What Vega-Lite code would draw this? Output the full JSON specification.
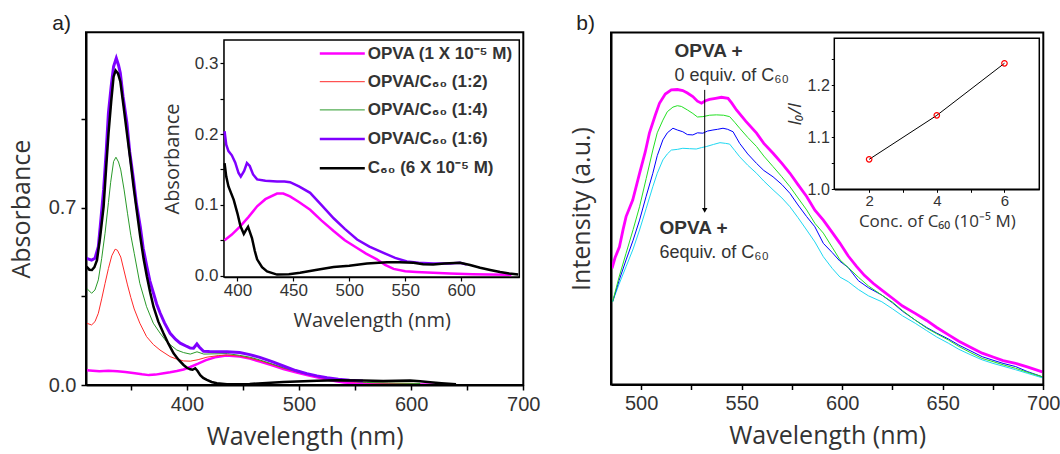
{
  "$schema": "https://vega.github.io/schema/vega-lite/v6.json",
  "width": 1060,
  "height": 454,
  "autosize": {"type": "none"},
  "padding": 0,
  "background": "white",
  "config": {
    "view": {"stroke": null},
    "axis": {"grid": false, "labelFont": "Liberation Sans", "labelColor": "#333333", "titleFont": "Open Sans", "titleColor": "#333333", "titleFontWeight": "normal", "domainColor": "black", "tickColor": "black", "labelFlush": false, "labelOverlap": false}
  },
  "datasets": {
    "amain": [
      {"s":"OPVA","x":310.5,"y":0.058},{"s":"OPVA","x":316,"y":0.056},{"s":"OPVA","x":322,"y":0.054},{"s":"OPVA","x":330,"y":0.056},{"s":"OPVA","x":338,"y":0.054},{"s":"OPVA","x":345,"y":0.051},{"s":"OPVA","x":352,"y":0.047},{"s":"OPVA","x":360,"y":0.042},{"s":"OPVA","x":366,"y":0.039},{"s":"OPVA","x":372,"y":0.041},{"s":"OPVA","x":378,"y":0.045},{"s":"OPVA","x":385,"y":0.050},{"s":"OPVA","x":391,"y":0.055},{"s":"OPVA","x":397,"y":0.061},{"s":"OPVA","x":403,"y":0.071},{"s":"OPVA","x":410,"y":0.084},{"s":"OPVA","x":417,"y":0.098},{"s":"OPVA","x":425,"y":0.109},{"s":"OPVA","x":435,"y":0.116},{"s":"OPVA","x":447,"y":0.112},{"s":"OPVA","x":456,"y":0.104},{"s":"OPVA","x":465,"y":0.093},{"s":"OPVA","x":476,"y":0.078},{"s":"OPVA","x":486,"y":0.063},{"s":"OPVA","x":497,"y":0.050},{"s":"OPVA","x":507,"y":0.039},{"s":"OPVA","x":516,"y":0.030},{"s":"OPVA","x":525,"y":0.022},{"s":"OPVA","x":533,"y":0.015},{"s":"OPVA","x":540,"y":0.010},{"s":"OPVA","x":550,"y":0.007},{"s":"OPVA","x":560,"y":0.005},{"s":"OPVA","x":575,"y":0.004},{"s":"OPVA","x":590,"y":0.003},{"s":"OPVA","x":610,"y":0.002},{"s":"OPVA","x":640,"y":0.001},
      {"s":"1:2","x":310.5,"y":0.244},{"s":"1:2","x":315,"y":0.237},{"s":"1:2","x":318,"y":0.250},{"s":"1:2","x":321,"y":0.283},{"s":"1:2","x":324,"y":0.340},{"s":"1:2","x":327,"y":0.401},{"s":"1:2","x":330,"y":0.460},{"s":"1:2","x":333,"y":0.510},{"s":"1:2","x":336,"y":0.536},{"s":"1:2","x":338,"y":0.532},{"s":"1:2","x":341,"y":0.505},{"s":"1:2","x":344,"y":0.450},{"s":"1:2","x":347,"y":0.395},{"s":"1:2","x":350,"y":0.345},{"s":"1:2","x":353,"y":0.300},{"s":"1:2","x":358,"y":0.244},{"s":"1:2","x":364,"y":0.191},{"s":"1:2","x":370,"y":0.160},{"s":"1:2","x":376,"y":0.138},{"s":"1:2","x":385,"y":0.112},{"s":"1:2","x":391,"y":0.102},{"s":"1:2","x":397,"y":0.095},{"s":"1:2","x":403,"y":0.094},{"s":"1:2","x":410,"y":0.100},{"s":"1:2","x":418,"y":0.110},{"s":"1:2","x":428,"y":0.116},{"s":"1:2","x":436,"y":0.118},{"s":"1:2","x":447,"y":0.114},{"s":"1:2","x":456,"y":0.106},{"s":"1:2","x":465,"y":0.096},{"s":"1:2","x":476,"y":0.081},{"s":"1:2","x":486,"y":0.066},{"s":"1:2","x":497,"y":0.053},{"s":"1:2","x":507,"y":0.042},{"s":"1:2","x":516,"y":0.033},{"s":"1:2","x":525,"y":0.025},{"s":"1:2","x":533,"y":0.019},{"s":"1:2","x":545,"y":0.013},{"s":"1:2","x":560,"y":0.009},{"s":"1:2","x":580,"y":0.007},{"s":"1:2","x":608,"y":0.006},
      {"s":"1:4","x":310.5,"y":0.382},{"s":"1:4","x":315,"y":0.362},{"s":"1:4","x":318,"y":0.375},{"s":"1:4","x":321,"y":0.415},{"s":"1:4","x":324,"y":0.500},{"s":"1:4","x":327,"y":0.599},{"s":"1:4","x":330,"y":0.720},{"s":"1:4","x":332,"y":0.800},{"s":"1:4","x":334.6,"y":0.882},{"s":"1:4","x":336.7,"y":0.899},{"s":"1:4","x":339,"y":0.880},{"s":"1:4","x":341,"y":0.849},{"s":"1:4","x":344,"y":0.770},{"s":"1:4","x":347,"y":0.678},{"s":"1:4","x":350,"y":0.590},{"s":"1:4","x":353,"y":0.520},{"s":"1:4","x":358,"y":0.401},{"s":"1:4","x":364,"y":0.309},{"s":"1:4","x":370,"y":0.244},{"s":"1:4","x":376,"y":0.205},{"s":"1:4","x":382,"y":0.170},{"s":"1:4","x":391,"y":0.138},{"s":"1:4","x":397,"y":0.128},{"s":"1:4","x":403,"y":0.122},{"s":"1:4","x":409,"y":0.131},{"s":"1:4","x":415,"y":0.122},{"s":"1:4","x":425,"y":0.123},{"s":"1:4","x":436,"y":0.124},{"s":"1:4","x":447,"y":0.117},{"s":"1:4","x":456,"y":0.110},{"s":"1:4","x":465,"y":0.099},{"s":"1:4","x":476,"y":0.083},{"s":"1:4","x":486,"y":0.068},{"s":"1:4","x":497,"y":0.055},{"s":"1:4","x":507,"y":0.044},{"s":"1:4","x":516,"y":0.035},{"s":"1:4","x":525,"y":0.027},{"s":"1:4","x":533,"y":0.021},{"s":"1:4","x":545,"y":0.015},{"s":"1:4","x":560,"y":0.010},{"s":"1:4","x":580,"y":0.008},{"s":"1:4","x":608,"y":0.006},
      {"s":"1:6","x":310.5,"y":0.500},{"s":"1:6","x":315,"y":0.493},{"s":"1:6","x":318,"y":0.500},{"s":"1:6","x":321,"y":0.546},{"s":"1:6","x":323,"y":0.640},{"s":"1:6","x":325.7,"y":0.770},{"s":"1:6","x":328,"y":0.920},{"s":"1:6","x":330,"y":1.073},{"s":"1:6","x":332.5,"y":1.180},{"s":"1:6","x":334.6,"y":1.257},{"s":"1:6","x":337,"y":1.290},{"s":"1:6","x":339,"y":1.262},{"s":"1:6","x":340.6,"y":1.231},{"s":"1:6","x":343,"y":1.140},{"s":"1:6","x":346.5,"y":1.033},{"s":"1:6","x":349,"y":0.920},{"s":"1:6","x":352.4,"y":0.809},{"s":"1:6","x":355,"y":0.715},{"s":"1:6","x":358.4,"y":0.625},{"s":"1:6","x":361,"y":0.540},{"s":"1:6","x":364.3,"y":0.467},{"s":"1:6","x":367,"y":0.410},{"s":"1:6","x":370.2,"y":0.362},{"s":"1:6","x":373,"y":0.320},{"s":"1:6","x":376.2,"y":0.283},{"s":"1:6","x":380,"y":0.245},{"s":"1:6","x":385,"y":0.204},{"s":"1:6","x":390,"y":0.180},{"s":"1:6","x":394,"y":0.165},{"s":"1:6","x":400,"y":0.152},{"s":"1:6","x":403,"y":0.146},{"s":"1:6","x":405.9,"y":0.145},{"s":"1:6","x":408.9,"y":0.162},{"s":"1:6","x":411,"y":0.150},{"s":"1:6","x":414.8,"y":0.133},{"s":"1:6","x":420,"y":0.132},{"s":"1:6","x":435.7,"y":0.131},{"s":"1:6","x":447,"y":0.128},{"s":"1:6","x":456,"y":0.120},{"s":"1:6","x":465,"y":0.109},{"s":"1:6","x":476,"y":0.092},{"s":"1:6","x":486,"y":0.075},{"s":"1:6","x":497,"y":0.057},{"s":"1:6","x":507,"y":0.045},{"s":"1:6","x":516,"y":0.036},{"s":"1:6","x":525,"y":0.029},{"s":"1:6","x":535,"y":0.023},{"s":"1:6","x":545,"y":0.019},{"s":"1:6","x":557,"y":0.016},
      {"s":"C60","x":310.5,"y":0.467},{"s":"C60","x":313,"y":0.455},{"s":"C60","x":315.3,"y":0.454},{"s":"C60","x":317.5,"y":0.465},{"s":"C60","x":319.8,"y":0.493},{"s":"C60","x":322.5,"y":0.580},{"s":"C60","x":325.7,"y":0.704},{"s":"C60","x":328,"y":0.860},{"s":"C60","x":330.1,"y":0.994},{"s":"C60","x":332.5,"y":1.120},{"s":"C60","x":334.6,"y":1.217},{"s":"C60","x":336.4,"y":1.241},{"s":"C60","x":338.5,"y":1.230},{"s":"C60","x":340.6,"y":1.198},{"s":"C60","x":343.5,"y":1.100},{"s":"C60","x":346.5,"y":0.994},{"s":"C60","x":349.5,"y":0.890},{"s":"C60","x":352.4,"y":0.783},{"s":"C60","x":355.5,"y":0.680},{"s":"C60","x":358.4,"y":0.585},{"s":"C60","x":361.3,"y":0.500},{"s":"C60","x":364.3,"y":0.428},{"s":"C60","x":367.3,"y":0.364},{"s":"C60","x":370.2,"y":0.309},{"s":"C60","x":374.5,"y":0.250},{"s":"C60","x":379.1,"y":0.204},{"s":"C60","x":383.5,"y":0.163},{"s":"C60","x":388.1,"y":0.125},{"s":"C60","x":392.5,"y":0.100},{"s":"C60","x":397,"y":0.079},{"s":"C60","x":400,"y":0.068},{"s":"C60","x":403,"y":0.062},{"s":"C60","x":405,"y":0.060},{"s":"C60","x":407.4,"y":0.066},{"s":"C60","x":409.5,"y":0.055},{"s":"C60","x":411.9,"y":0.039},{"s":"C60","x":414.5,"y":0.028},{"s":"C60","x":417.8,"y":0.020},{"s":"C60","x":422,"y":0.012},{"s":"C60","x":426.7,"y":0.007},{"s":"C60","x":435.7,"y":0.003},{"s":"C60","x":456,"y":0.004},{"s":"C60","x":486,"y":0.012},{"s":"C60","x":516,"y":0.017},{"s":"C60","x":534,"y":0.019},{"s":"C60","x":557,"y":0.018},{"s":"C60","x":575,"y":0.016},{"s":"C60","x":599,"y":0.018},{"s":"C60","x":608,"y":0.015},{"s":"C60","x":617,"y":0.011},{"s":"C60","x":627,"y":0.007},{"s":"C60","x":640,"y":0.003}
    ],
    "ainset": [
      {"s":"OPVA","x":388.5,"y":0.050},{"s":"OPVA","x":395,"y":0.058},{"s":"OPVA","x":402.7,"y":0.070},{"s":"OPVA","x":410,"y":0.083},{"s":"OPVA","x":417.6,"y":0.098},{"s":"OPVA","x":425,"y":0.108},{"s":"OPVA","x":435.4,"y":0.116},{"s":"OPVA","x":441,"y":0.116},{"s":"OPVA","x":447,"y":0.112},{"s":"OPVA","x":455,"y":0.104},{"s":"OPVA","x":465,"y":0.093},{"s":"OPVA","x":475,"y":0.078},{"s":"OPVA","x":486,"y":0.063},{"s":"OPVA","x":496,"y":0.050},{"s":"OPVA","x":507,"y":0.039},{"s":"OPVA","x":515,"y":0.031},{"s":"OPVA","x":524.7,"y":0.023},{"s":"OPVA","x":532,"y":0.015},{"s":"OPVA","x":539.6,"y":0.0095},{"s":"OPVA","x":550,"y":0.006},{"s":"OPVA","x":560,"y":0.005},{"s":"OPVA","x":575,"y":0.004},{"s":"OPVA","x":590,"y":0.003},{"s":"OPVA","x":610,"y":0.002},{"s":"OPVA","x":625,"y":0.0015},{"s":"OPVA","x":645,"y":0.001},
      {"s":"1:6","x":388.5,"y":0.204},{"s":"1:6","x":390,"y":0.185},{"s":"1:6","x":392,"y":0.176},{"s":"1:6","x":395,"y":0.170},{"s":"1:6","x":398,"y":0.160},{"s":"1:6","x":401,"y":0.145},{"s":"1:6","x":403,"y":0.140},{"s":"1:6","x":406,"y":0.148},{"s":"1:6","x":408.5,"y":0.159},{"s":"1:6","x":411,"y":0.155},{"s":"1:6","x":414,"y":0.143},{"s":"1:6","x":417.6,"y":0.136},{"s":"1:6","x":425,"y":0.134},{"s":"1:6","x":435.4,"y":0.133},{"s":"1:6","x":442,"y":0.133},{"s":"1:6","x":447,"y":0.132},{"s":"1:6","x":455,"y":0.126},{"s":"1:6","x":465,"y":0.117},{"s":"1:6","x":475,"y":0.100},{"s":"1:6","x":486,"y":0.081},{"s":"1:6","x":496,"y":0.066},{"s":"1:6","x":507,"y":0.051},{"s":"1:6","x":518,"y":0.041},{"s":"1:6","x":530.6,"y":0.032},{"s":"1:6","x":541,"y":0.025},{"s":"1:6","x":551.5,"y":0.020},{"s":"1:6","x":562,"y":0.018},{"s":"1:6","x":575,"y":0.017},{"s":"1:6","x":590,"y":0.017},{"s":"1:6","x":599,"y":0.018},{"s":"1:6","x":605,"y":0.0155},
      {"s":"C60","x":388.5,"y":0.159},{"s":"C60","x":390,"y":0.140},{"s":"C60","x":392,"y":0.126},{"s":"C60","x":396.7,"y":0.107},{"s":"C60","x":400,"y":0.088},{"s":"C60","x":402.7,"y":0.070},{"s":"C60","x":405.7,"y":0.059},{"s":"C60","x":407.5,"y":0.064},{"s":"C60","x":409.5,"y":0.069},{"s":"C60","x":411,"y":0.062},{"s":"C60","x":413,"y":0.053},{"s":"C60","x":415.5,"y":0.035},{"s":"C60","x":417.6,"y":0.023},{"s":"C60","x":422,"y":0.012},{"s":"C60","x":426.5,"y":0.006},{"s":"C60","x":435.4,"y":0.0014},{"s":"C60","x":446,"y":0.002},{"s":"C60","x":456,"y":0.004},{"s":"C60","x":470,"y":0.008},{"s":"C60","x":486,"y":0.012},{"s":"C60","x":500,"y":0.014},{"s":"C60","x":515.8,"y":0.017},{"s":"C60","x":533.7,"y":0.019},{"s":"C60","x":545,"y":0.019},{"s":"C60","x":557.4,"y":0.018},{"s":"C60","x":566,"y":0.016},{"s":"C60","x":575,"y":0.0155},{"s":"C60","x":585,"y":0.017},{"s":"C60","x":599,"y":0.018},{"s":"C60","x":608,"y":0.015},{"s":"C60","x":617,"y":0.011},{"s":"C60","x":626,"y":0.008},{"s":"C60","x":634.8,"y":0.005},{"s":"C60","x":643,"y":0.003},{"s":"C60","x":651,"y":0.0015}
    ],
    "bmain": [
      {"s":"6","x":485.8,"y":23.5},{"s":"6","x":489,"y":28.5},{"s":"6","x":492.5,"y":33.5},{"s":"6","x":496,"y":38.5},{"s":"6","x":499.2,"y":43.9},{"s":"6","x":502.5,"y":50},{"s":"6","x":505.8,"y":56.2},{"s":"6","x":508,"y":60},{"s":"6","x":510.8,"y":63.8},{"s":"6","x":513,"y":65.5},{"s":"6","x":515,"y":66.6},{"s":"6","x":518,"y":66.8},{"s":"6","x":520.7,"y":67.1},{"s":"6","x":524,"y":67.0},{"s":"6","x":527.4,"y":66.9},{"s":"6","x":530,"y":67.3},{"s":"6","x":532.4,"y":67.6},{"s":"6","x":536,"y":68.2},{"s":"6","x":539.2,"y":68.7},{"s":"6","x":542,"y":68.5},{"s":"6","x":544,"y":68.3},{"s":"6","x":546.5,"y":66.5},{"s":"6","x":549,"y":64.7},{"s":"6","x":553,"y":62.3},{"s":"6","x":557.4,"y":60.0},{"s":"6","x":561,"y":57.8},{"s":"6","x":565.6,"y":55.3},{"s":"6","x":570,"y":53.0},{"s":"6","x":574,"y":50.5},{"s":"6","x":578,"y":47.4},{"s":"6","x":582.3,"y":43.9},{"s":"6","x":586.4,"y":40.5},{"s":"6","x":590.6,"y":36.3},{"s":"6","x":595,"y":33.0},{"s":"6","x":598.9,"y":30.5},{"s":"6","x":603,"y":29.2},{"s":"6","x":608,"y":27.0},{"s":"6","x":613,"y":25.2},{"s":"6","x":619.7,"y":23.5},{"s":"6","x":625,"y":21.5},{"s":"6","x":630,"y":19.5},{"s":"6","x":636.3,"y":17.4},{"s":"6","x":642,"y":15.3},{"s":"6","x":647,"y":13.5},{"s":"6","x":652.9,"y":11.7},{"s":"6","x":658,"y":10.0},{"s":"6","x":664,"y":8.4},{"s":"6","x":669.6,"y":7.0},{"s":"6","x":675,"y":6.0},{"s":"6","x":680,"y":5.2},{"s":"6","x":686.2,"y":4.2},{"s":"6","x":692,"y":3.2},{"s":"6","x":699.5,"y":1.9},
      {"s":"4","x":485.8,"y":23.5},{"s":"4","x":489,"y":29.5},{"s":"4","x":492.5,"y":35.4},{"s":"4","x":496,"y":41},{"s":"4","x":499.2,"y":46.7},{"s":"4","x":502.5,"y":53.5},{"s":"4","x":505.8,"y":60.0},{"s":"4","x":508,"y":65},{"s":"4","x":510.8,"y":69.5},{"s":"4","x":513,"y":71.5},{"s":"4","x":515.8,"y":72.8},{"s":"4","x":518,"y":72.3},{"s":"4","x":520.7,"y":71.8},{"s":"4","x":523,"y":71.0},{"s":"4","x":525.7,"y":70.9},{"s":"4","x":528,"y":71.5},{"s":"4","x":530.7,"y":71.4},{"s":"4","x":533,"y":72.0},{"s":"4","x":535.7,"y":72.3},{"s":"4","x":538,"y":72.5},{"s":"4","x":540.7,"y":72.8},{"s":"4","x":543,"y":72.5},{"s":"4","x":545.7,"y":71.8},{"s":"4","x":547.5,"y":70.0},{"s":"4","x":549,"y":68.5},{"s":"4","x":553,"y":65.5},{"s":"4","x":557.4,"y":62.8},{"s":"4","x":561,"y":60.8},{"s":"4","x":565.6,"y":59.0},{"s":"4","x":570,"y":56.8},{"s":"4","x":574,"y":54.3},{"s":"4","x":578,"y":51.0},{"s":"4","x":582.3,"y":47.7},{"s":"4","x":586.4,"y":44.8},{"s":"4","x":590.6,"y":40.1},{"s":"4","x":595,"y":37.5},{"s":"4","x":598.9,"y":35.0},{"s":"4","x":603,"y":33.2},{"s":"4","x":608,"y":29.5},{"s":"4","x":613,"y":27.5},{"s":"4","x":619.7,"y":25.4},{"s":"4","x":625,"y":23.2},{"s":"4","x":630,"y":20.8},{"s":"4","x":636.3,"y":18.3},{"s":"4","x":642,"y":16.2},{"s":"4","x":647,"y":14.6},{"s":"4","x":652.9,"y":12.9},{"s":"4","x":658,"y":11.2},{"s":"4","x":664,"y":9.5},{"s":"4","x":669.6,"y":7.9},{"s":"4","x":675,"y":6.9},{"s":"4","x":680,"y":6.0},{"s":"4","x":686.2,"y":5.1},{"s":"4","x":692,"y":3.7},{"s":"4","x":699.5,"y":2.2},
      {"s":"2","x":485.8,"y":23.5},{"s":"2","x":489,"y":30.5},{"s":"2","x":492.5,"y":37.3},{"s":"2","x":496,"y":44},{"s":"2","x":499.2,"y":50.5},{"s":"2","x":502.5,"y":58.5},{"s":"2","x":505.8,"y":66.6},{"s":"2","x":508,"y":71.5},{"s":"2","x":510.8,"y":75.1},{"s":"2","x":513,"y":77.5},{"s":"2","x":515.8,"y":78.8},{"s":"2","x":518,"y":79.2},{"s":"2","x":520,"y":79.0},{"s":"2","x":523,"y":78.0},{"s":"2","x":525.7,"y":77.0},{"s":"2","x":528,"y":76.0},{"s":"2","x":530.7,"y":76.1},{"s":"2","x":534,"y":76.5},{"s":"2","x":537.4,"y":76.6},{"s":"2","x":541,"y":76.5},{"s":"2","x":544,"y":76.1},{"s":"2","x":546.5,"y":74.5},{"s":"2","x":549,"y":72.8},{"s":"2","x":553,"y":70.2},{"s":"2","x":557.4,"y":67.6},{"s":"2","x":561,"y":64.9},{"s":"2","x":565.6,"y":61.9},{"s":"2","x":570,"y":59.0},{"s":"2","x":574,"y":56.2},{"s":"2","x":578,"y":53.0},{"s":"2","x":582.3,"y":49.6},{"s":"2","x":586.4,"y":45.8},{"s":"2","x":590.6,"y":43.0},{"s":"2","x":595,"y":39.0},{"s":"2","x":598.9,"y":35.4},{"s":"2","x":603,"y":33.2},{"s":"2","x":608,"y":30.5},{"s":"2","x":613,"y":28.0},{"s":"2","x":619.7,"y":25.4},{"s":"2","x":625,"y":23.4},{"s":"2","x":630,"y":21.0},{"s":"2","x":636.3,"y":18.3},{"s":"2","x":642,"y":16.0},{"s":"2","x":647,"y":14.4},{"s":"2","x":652.9,"y":12.6},{"s":"2","x":658,"y":10.8},{"s":"2","x":664,"y":9.0},{"s":"2","x":669.6,"y":7.4},{"s":"2","x":675,"y":6.5},{"s":"2","x":680,"y":5.6},{"s":"2","x":686.2,"y":4.6},{"s":"2","x":692,"y":3.5},{"s":"2","x":699.5,"y":2.2},
      {"s":"0","x":485.5,"y":33.0},{"s":"0","x":487,"y":36},{"s":"0","x":489.2,"y":39.1},{"s":"0","x":491,"y":44},{"s":"0","x":492.5,"y":47.7},{"s":"0","x":495.8,"y":52.4},{"s":"0","x":499.2,"y":60.0},{"s":"0","x":502,"y":66},{"s":"0","x":504.1,"y":71.4},{"s":"0","x":507,"y":76.5},{"s":"0","x":509.1,"y":79.9},{"s":"0","x":512,"y":82.5},{"s":"0","x":515,"y":83.7},{"s":"0","x":518,"y":83.8},{"s":"0","x":520.7,"y":83.5},{"s":"0","x":523,"y":82.8},{"s":"0","x":525.7,"y":81.8},{"s":"0","x":528,"y":80.5},{"s":"0","x":530,"y":79.9},{"s":"0","x":532,"y":80.6},{"s":"0","x":534,"y":81.0},{"s":"0","x":537,"y":81.3},{"s":"0","x":539.9,"y":81.6},{"s":"0","x":543.2,"y":81.3},{"s":"0","x":545,"y":80.0},{"s":"0","x":547.4,"y":78.0},{"s":"0","x":552,"y":74.8},{"s":"0","x":557.4,"y":71.4},{"s":"0","x":561,"y":68.5},{"s":"0","x":565.6,"y":65.7},{"s":"0","x":570,"y":62.8},{"s":"0","x":574,"y":60.0},{"s":"0","x":578,"y":56.8},{"s":"0","x":582.3,"y":53.4},{"s":"0","x":586.4,"y":49.5},{"s":"0","x":590.6,"y":46.7},{"s":"0","x":595,"y":43.2},{"s":"0","x":598.9,"y":40.1},{"s":"0","x":603,"y":36.5},{"s":"0","x":607.2,"y":33.5},{"s":"0","x":611,"y":31.0},{"s":"0","x":615.5,"y":28.7},{"s":"0","x":619.7,"y":26.8},{"s":"0","x":625,"y":24.5},{"s":"0","x":630,"y":22.3},{"s":"0","x":636.3,"y":20.2},{"s":"0","x":642,"y":18.2},{"s":"0","x":647,"y":16.2},{"s":"0","x":652.9,"y":14.1},{"s":"0","x":658,"y":12.3},{"s":"0","x":664,"y":10.5},{"s":"0","x":669.6,"y":8.9},{"s":"0","x":675,"y":7.8},{"s":"0","x":680,"y":6.8},{"s":"0","x":686.2,"y":6.0},{"s":"0","x":692,"y":5.0},{"s":"0","x":699.5,"y":3.6}
    ],
    "binset": [
      {"c": 2, "r": 1.0575},
      {"c": 4, "r": 1.142},
      {"c": 6, "r": 1.242}
    ]
  },
  "layer": [
    {
      "layer": [
        {
          "data": {"name": "amain"},
          "mark": {"type": "line"},
          "encoding": {
            "x": {"field": "x", "type": "quantitative", "scale": {"domain": [310, 700], "range": [86, 523.3], "nice": false, "zero": false},
              "axis": {"orient": "bottom", "offset": -69, "title": "Wavelength (nm)", "values": [350, 400, 450, 500, 550, 600, 650, 700], "labelExpr": "datum.value % 100 == 0 ? datum.label : ''", "format": "d", "labelFontSize": 20, "tickSize": 5, "tickWidth": 1.5, "domainWidth": 2, "labelPadding": 4, "titleFontSize": 25, "titlePadding": 10}},
            "y": {"field": "y", "type": "quantitative", "scale": {"domain": [0, 1.392], "range": [385, 32.3], "nice": false, "zero": false},
              "axis": {"orient": "left", "offset": -86, "title": "Absorbance", "values": [0, 0.35, 0.7, 1.05], "labelExpr": "datum.value == 0 || datum.value == 0.7 ? format(datum.value, '.1f') : ''", "labelFontSize": 20, "tickSize": 5, "tickWidth": 1.5, "domainWidth": 2, "labelPadding": 5, "titleFontSize": 25, "titlePadding": 14}},
            "color": {"field": "s", "type": "nominal", "scale": {"domain": ["OPVA", "1:2", "1:4", "1:6", "C60"], "range": ["#FF00FF", "#FF2A2A", "#2A9A2A", "#7F00FF", "#000000"]}, "legend": null},
            "strokeWidth": {"field": "s", "type": "nominal", "scale": {"type": "ordinal", "domain": ["OPVA", "1:2", "1:4", "1:6", "C60"], "range": [2.5, 1, 1, 3, 2.5]}, "legend": null}
          }
        },
        {
          "data": {"values": [{}]},
          "mark": {"type": "rect", "fillOpacity": 0, "stroke": "black", "strokeWidth": 2},
          "encoding": {
            "x": {"datum": 310, "type": "quantitative", "scale": {"domain": [310, 700], "range": [86, 523.3], "nice": false, "zero": false}},
            "x2": {"datum": 700},
            "y": {"datum": 0, "type": "quantitative", "scale": {"domain": [0, 1.392], "range": [385, 32.3], "nice": false, "zero": false}},
            "y2": {"datum": 1.392}
          }
        },
        {
          "data": {"values": [{}]},
          "mark": {"type": "text", "text": "a)", "align": "left", "baseline": "middle", "fontSize": 21, "font": "Liberation Sans", "color": "#222222"},
          "encoding": {
            "x": {"datum": 280, "type": "quantitative", "scale": {"domain": [310, 700], "range": [86, 523.3], "nice": false, "zero": false}},
            "y": {"datum": 1.425, "type": "quantitative", "scale": {"domain": [0, 1.392], "range": [385, 32.3], "nice": false, "zero": false}}
          }
        }
      ]
    },
    {
      "layer": [
        {
          "data": {"values": [{}]},
          "mark": {"type": "rect", "fill": "white", "stroke": "black", "strokeWidth": 1.5},
          "encoding": {
            "x": {"datum": 388, "type": "quantitative", "scale": {"domain": [388, 652], "range": [224, 519.3], "nice": false, "zero": false}},
            "x2": {"datum": 652},
            "y": {"datum": -0.002, "type": "quantitative", "scale": {"domain": [-0.002, 0.333], "range": [277, 40], "nice": false, "zero": false}},
            "y2": {"datum": 0.333}
          }
        },
        {
          "data": {"name": "ainset"},
          "mark": {"type": "line"},
          "encoding": {
            "x": {"field": "x", "type": "quantitative", "scale": {"domain": [388, 652], "range": [224, 519.3], "nice": false, "zero": false},
              "axis": {"orient": "bottom", "offset": -177, "title": "Wavelength (nm)", "values": [400, 450, 500, 550, 600], "format": "d", "labelFontSize": 17, "tickSize": 4, "tickWidth": 1.2, "domainWidth": 1.5, "labelPadding": 1, "titleFontSize": 20, "titlePadding": 12}},
            "y": {"field": "y", "type": "quantitative", "scale": {"domain": [-0.002, 0.333], "range": [277, 40], "nice": false, "zero": false},
              "axis": {"orient": "left", "offset": -224, "title": "Absorbance", "values": [0, 0.05, 0.1, 0.15, 0.2, 0.25, 0.3], "labelExpr": "(round(datum.value * 100) % 10 == 0) ? format(datum.value, '.1f') : ''", "labelFontSize": 17, "tickSize": 4, "tickWidth": 1.2, "domainWidth": 1.5, "labelPadding": 2, "titleFontSize": 20, "titlePadding": 12}},
            "color": {"field": "s", "type": "nominal", "scale": {"domain": ["OPVA", "1:2", "1:4", "1:6", "C60"], "range": ["#FF00FF", "#FF2A2A", "#2A9A2A", "#7F00FF", "#000000"]},
              "legend": {"orient": "none", "legendX": 330.8, "legendY": 42, "title": null, "padding": 0, "symbolType": "M-2.25,0H2.25", "symbolSize": 400, "symbolStrokeWidth": 3, "labelOffset": 14, "labelFont": "Liberation Sans", "labelFontWeight": "bold", "labelFontSize": 17, "labelColor": "#333333", "rowPadding": 9.2,
                "labelExpr": "datum.label == 'OPVA' ? 'OPVA (1 X 10⁻⁵ M)' : (datum.label == 'C60' ? 'C₆₀ (6 X 10⁻⁵ M)' : 'OPVA/C₆₀ (' + datum.label + ')')",
                "encode": {"symbols": {"update": {"strokeWidth": {"signal": "datum.value == '1:2' || datum.value == '1:4' ? 1.5 : 3"}}}}}},
            "strokeWidth": {"field": "s", "type": "nominal", "scale": {"type": "ordinal", "domain": ["OPVA", "1:2", "1:4", "1:6", "C60"], "range": [2.5, 1, 1, 2.5, 2.5]}, "legend": null}
          }
        }
      ]
    },
    {
      "layer": [
        {
          "data": {"name": "bmain"},
          "mark": {"type": "line"},
          "encoding": {
            "x": {"field": "x", "type": "quantitative", "scale": {"domain": [485, 700], "range": [611, 1043.3], "nice": false, "zero": false},
              "axis": {"orient": "bottom", "offset": -69.5, "title": "Wavelength (nm)", "values": [500, 525, 550, 575, 600, 625, 650, 675, 700], "labelExpr": "datum.value % 50 == 0 ? datum.label : ''", "format": "d", "labelFontSize": 20, "tickSize": 5, "tickWidth": 1.5, "domainWidth": 2, "labelPadding": 4, "titleFontSize": 25, "titlePadding": 10}},
            "y": {"field": "y", "type": "quantitative", "scale": {"domain": [0, 100], "range": [384.5, 32.5], "nice": false, "zero": false},
              "axis": {"orient": "left", "offset": -611, "title": "Intensity (a.u.)", "labels": false, "ticks": false, "domainWidth": 2, "titleFontSize": 25, "titlePadding": 17}},
            "color": {"field": "s", "type": "nominal", "scale": {"domain": ["0", "2", "4", "6"], "range": ["#FF00FF", "#22E022", "#0000FF", "#1ED8F2"]}, "legend": null},
            "strokeWidth": {"field": "s", "type": "nominal", "scale": {"type": "ordinal", "domain": ["0", "2", "4", "6"], "range": [2.8, 1, 1, 1]}, "legend": null}
          }
        },
        {
          "data": {"values": [{}]},
          "mark": {"type": "rect", "fillOpacity": 0, "stroke": "black", "strokeWidth": 2},
          "encoding": {
            "x": {"datum": 485, "type": "quantitative", "scale": {"domain": [485, 700], "range": [611, 1043.3], "nice": false, "zero": false}},
            "x2": {"datum": 700},
            "y": {"datum": 0, "type": "quantitative", "scale": {"domain": [0, 100], "range": [384.5, 32.5], "nice": false, "zero": false}},
            "y2": {"datum": 100}
          }
        },
        {
          "data": {"values": [{}]},
          "mark": {"type": "rule", "color": "black", "strokeWidth": 1},
          "encoding": {
            "x": {"datum": 531.6, "type": "quantitative", "scale": {"domain": [485, 700], "range": [611, 1043.3], "nice": false, "zero": false}},
            "y": {"datum": 83.7, "type": "quantitative", "scale": {"domain": [0, 100], "range": [384.5, 32.5], "nice": false, "zero": false}},
            "y2": {"datum": 49.5}
          }
        },
        {
          "data": {"values": [{}]},
          "mark": {"type": "point", "shape": "triangle-down", "filled": true, "color": "black", "size": 30, "opacity": 1},
          "encoding": {
            "x": {"datum": 531.6, "type": "quantitative", "scale": {"domain": [485, 700], "range": [611, 1043.3], "nice": false, "zero": false}},
            "y": {"datum": 49.5, "type": "quantitative", "scale": {"domain": [0, 100], "range": [384.5, 32.5], "nice": false, "zero": false}}
          }
        },
        {
          "data": {"values": [{}]},
          "mark": {"type": "text", "text": "OPVA +", "align": "left", "baseline": "middle", "fontSize": 19, "fontWeight": "bold", "font": "Liberation Sans", "color": "#333333"},
          "encoding": {
            "x": {"datum": 516.6, "type": "quantitative", "scale": {"domain": [485, 700], "range": [611, 1043.3], "nice": false, "zero": false}},
            "y": {"datum": 94.7, "type": "quantitative", "scale": {"domain": [0, 100], "range": [384.5, 32.5], "nice": false, "zero": false}}
          }
        },
        {
          "data": {"values": [{}]},
          "mark": {"type": "text", "text": "0 equiv. of C₆₀", "align": "left", "baseline": "middle", "fontSize": 18, "font": "Liberation Sans", "color": "#333333"},
          "encoding": {
            "x": {"datum": 516.6, "type": "quantitative", "scale": {"domain": [485, 700], "range": [611, 1043.3], "nice": false, "zero": false}},
            "y": {"datum": 87.6, "type": "quantitative", "scale": {"domain": [0, 100], "range": [384.5, 32.5], "nice": false, "zero": false}}
          }
        },
        {
          "data": {"values": [{}]},
          "mark": {"type": "text", "text": "OPVA +", "align": "left", "baseline": "middle", "fontSize": 19, "fontWeight": "bold", "font": "Liberation Sans", "color": "#333333"},
          "encoding": {
            "x": {"datum": 509.1, "type": "quantitative", "scale": {"domain": [485, 700], "range": [611, 1043.3], "nice": false, "zero": false}},
            "y": {"datum": 44.5, "type": "quantitative", "scale": {"domain": [0, 100], "range": [384.5, 32.5], "nice": false, "zero": false}}
          }
        },
        {
          "data": {"values": [{}]},
          "mark": {"type": "text", "text": "6equiv. of C₆₀", "align": "left", "baseline": "middle", "fontSize": 18, "font": "Liberation Sans", "color": "#333333"},
          "encoding": {
            "x": {"datum": 509.1, "type": "quantitative", "scale": {"domain": [485, 700], "range": [611, 1043.3], "nice": false, "zero": false}},
            "y": {"datum": 37.4, "type": "quantitative", "scale": {"domain": [0, 100], "range": [384.5, 32.5], "nice": false, "zero": false}}
          }
        },
        {
          "data": {"values": [{}]},
          "mark": {"type": "text", "text": "b)", "align": "left", "baseline": "middle", "fontSize": 21, "font": "Liberation Sans", "color": "#222222"},
          "encoding": {
            "x": {"datum": 467.7, "type": "quantitative", "scale": {"domain": [485, 700], "range": [611, 1043.3], "nice": false, "zero": false}},
            "y": {"datum": 102.4, "type": "quantitative", "scale": {"domain": [0, 100], "range": [384.5, 32.5], "nice": false, "zero": false}}
          }
        }
      ]
    },
    {
      "layer": [
        {
          "data": {"values": [{}]},
          "mark": {"type": "rect", "fill": "white", "stroke": "black", "strokeWidth": 1.5},
          "encoding": {
            "x": {"datum": 0.97, "type": "quantitative", "scale": {"domain": [0.97, 7.03], "range": [834.3, 1039.3], "nice": false, "zero": false}},
            "x2": {"datum": 7.03},
            "y": {"datum": 1.0, "type": "quantitative", "scale": {"domain": [1.0, 1.29], "range": [189.3, 38.3], "nice": false, "zero": false}},
            "y2": {"datum": 1.29}
          }
        },
        {
          "data": {"name": "binset"},
          "mark": {"type": "line", "color": "black", "strokeWidth": 1},
          "encoding": {
            "x": {"field": "c", "type": "quantitative", "scale": {"domain": [0.97, 7.03], "range": [834.3, 1039.3], "nice": false, "zero": false},
              "axis": {"orient": "bottom", "offset": -264.7, "title": "Conc. of C₆₀ (10⁻⁵ M)", "values": [2, 3, 4, 5, 6], "labelExpr": "datum.value % 2 == 0 ? datum.label : ''", "format": "d", "labelFontSize": 15, "labelBaseline": "top", "tickSize": 3, "tickWidth": 1, "domainWidth": 1.5, "labelPadding": 1, "titleFontSize": 17, "titlePadding": 5}},
            "y": {"field": "r", "type": "quantitative", "scale": {"domain": [1.0, 1.29], "range": [189.3, 38.3], "nice": false, "zero": false},
              "axis": {"orient": "left", "offset": -834.3, "title": "I₀/I", "titleFontStyle": "italic", "values": [1.0, 1.05, 1.1, 1.15, 1.2, 1.25], "labelExpr": "(round(datum.value * 100) % 10 == 0) ? format(datum.value, '.1f') : ''", "labelFontSize": 16, "tickSize": 3, "tickWidth": 1, "domainWidth": 1.5, "labelPadding": 2, "titleFontSize": 18, "titlePadding": 3}}
          }
        },
        {
          "data": {"name": "binset"},
          "mark": {"type": "point", "filled": false, "color": "#FF0000", "size": 30, "strokeWidth": 1.2, "opacity": 1},
          "encoding": {
            "x": {"field": "c", "type": "quantitative", "scale": {"domain": [0.97, 7.03], "range": [834.3, 1039.3], "nice": false, "zero": false}},
            "y": {"field": "r", "type": "quantitative", "scale": {"domain": [1.0, 1.29], "range": [189.3, 38.3], "nice": false, "zero": false}}
          }
        }
      ]
    }
  ],
  "resolve": {
    "scale": {"x": "independent", "y": "independent", "color": "independent", "strokeWidth": "independent"},
    "axis": {"x": "independent", "y": "independent"},
    "legend": {"color": "independent", "strokeWidth": "independent"}
  }
}
